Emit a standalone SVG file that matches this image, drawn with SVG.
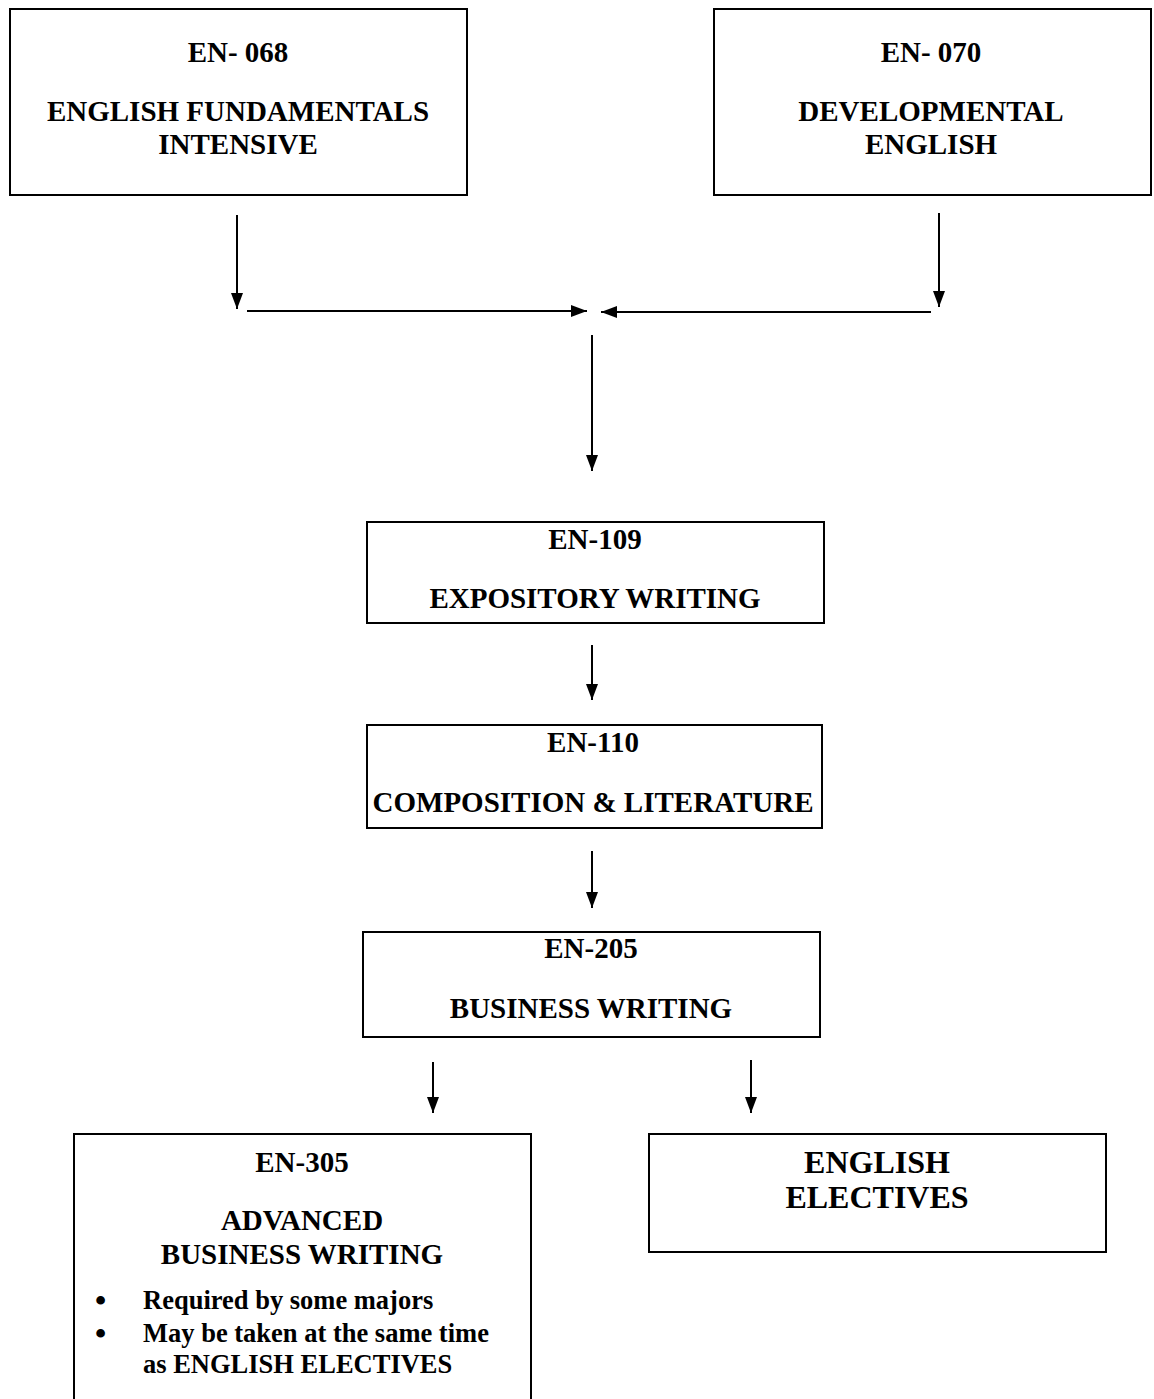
<svg xmlns="http://www.w3.org/2000/svg" width="1154" height="1399" viewBox="0 0 1154 1399">
<style>
.box{fill:#fff;stroke:#000;stroke-width:2}
.t{font-family:"Liberation Serif","Times New Roman",serif;font-weight:bold;font-size:29px;fill:#000;text-anchor:middle}
.b{font-family:"Liberation Serif","Times New Roman",serif;font-weight:bold;font-size:26.5px;fill:#000}
.dot{font-size:32px}
.big{font-size:32px}
.c{stroke:#000;stroke-width:2;fill:none;marker-end:url(#ah)}
</style>
<defs>
<marker id="ah" viewBox="0 0 16 12" refX="16" refY="6" markerWidth="16" markerHeight="12" markerUnits="userSpaceOnUse" orient="auto">
<path d="M0,0 L16,6 L0,12 z" fill="#000"/>
</marker>
</defs>
<rect width="1154" height="1399" fill="#fff"/>
<g id="connectors">
<line class="c" x1="237" y1="215" x2="237" y2="309"/>
<line class="c" x1="939" y1="213" x2="939" y2="307"/>
<line class="c" x1="247" y1="311" x2="587" y2="311"/>
<line class="c" x1="931" y1="312" x2="601" y2="312"/>
<line class="c" x1="592" y1="335" x2="592" y2="471"/>
<line class="c" x1="592" y1="645" x2="592" y2="700"/>
<line class="c" x1="592" y1="851" x2="592" y2="908"/>
<line class="c" x1="433" y1="1062" x2="433" y2="1113"/>
<line class="c" x1="751" y1="1060" x2="751" y2="1113"/>
</g>
<g id="en068">
<rect class="box" x="10" y="9" width="457" height="186"/>
<text class="t" x="238" y="62">EN- 068</text>
<text class="t" x="238" y="121">ENGLISH FUNDAMENTALS</text>
<text class="t" x="238" y="154">INTENSIVE</text>
</g>
<g id="en070">
<rect class="box" x="714" y="9" width="437" height="186"/>
<text class="t" x="931" y="62">EN- 070</text>
<text class="t" x="931" y="121">DEVELOPMENTAL</text>
<text class="t" x="931" y="154">ENGLISH</text>
</g>
<g id="en109">
<rect class="box" x="367" y="522" width="457" height="101"/>
<text class="t" x="595" y="549">EN-109</text>
<text class="t" x="595" y="608">EXPOSITORY WRITING</text>
</g>
<g id="en110">
<rect class="box" x="367" y="725" width="455" height="103"/>
<text class="t" x="593" y="752">EN-110</text>
<text class="t" x="593" y="812">COMPOSITION &amp; LITERATURE</text>
</g>
<g id="en205">
<rect class="box" x="363" y="932" width="457" height="105"/>
<text class="t" x="591" y="958">EN-205</text>
<text class="t" x="591" y="1018">BUSINESS WRITING</text>
</g>
<g id="en305">
<rect class="box" x="74" y="1134" width="457" height="270"/>
<text class="t" x="302" y="1172">EN-305</text>
<text class="t" x="302" y="1230">ADVANCED</text>
<text class="t" x="302" y="1264">BUSINESS WRITING</text>
<text class="b dot" x="95" y="1311">•</text>
<text class="b" x="143" y="1309">Required by some majors</text>
<text class="b dot" x="95" y="1344">•</text>
<text class="b" x="143" y="1342">May be taken at the same time</text>
<text class="b" x="143" y="1373">as ENGLISH ELECTIVES</text>
</g>
<g id="electives">
<rect class="box" x="649" y="1134" width="457" height="118"/>
<text class="t big" x="877" y="1173">ENGLISH</text>
<text class="t big" x="877" y="1208">ELECTIVES</text>
</g>
</svg>
